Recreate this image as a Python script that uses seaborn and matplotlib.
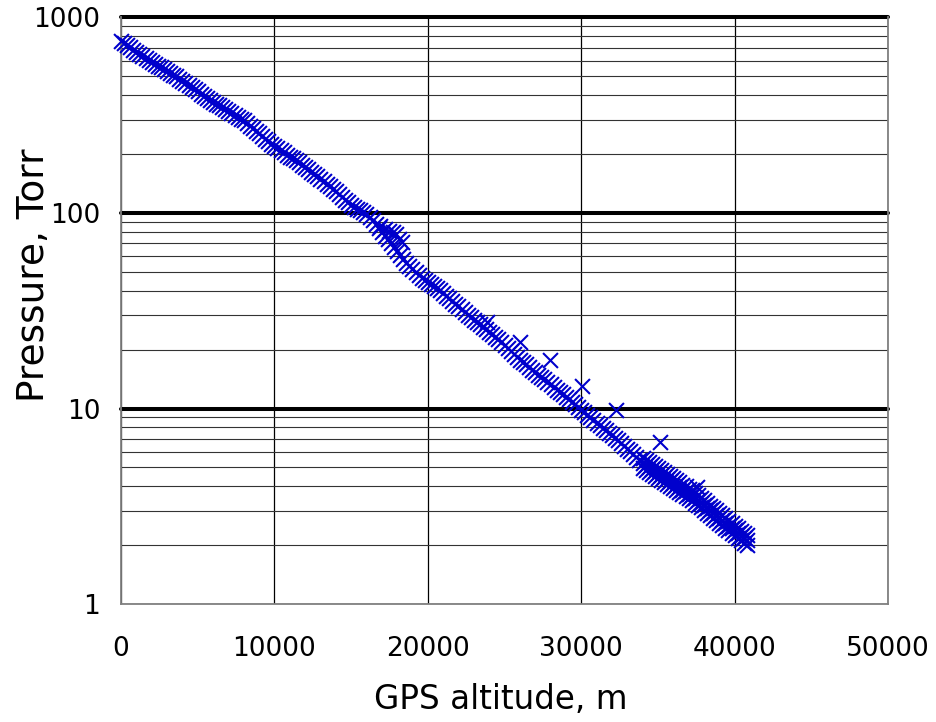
import numpy as np
import pandas as pd
import matplotlib
matplotlib.use('Agg')
import matplotlib.pyplot as plt
import matplotlib.ticker as ticker
import seaborn as sns

# ascent (altitude m, pressure Torr)
ascent_alt = [0, 200, 400, 600, 800, 1000, 1200, 1400, 1600, 1800,
              2000, 2200, 2400, 2600, 2800, 3000, 3200, 3400, 3600, 3800,
              4000, 4200, 4400, 4600, 4800, 5000, 5200, 5400, 5600, 5800,
              6000, 6200, 6400, 6600, 6800, 7000, 7200, 7400, 7600, 7800,
              8000, 8200, 8400, 8600, 8800, 9000, 9200, 9400, 9600, 9800,
              10000, 10200, 10400, 10600, 10800, 11000, 11200, 11400, 11600, 11800,
              12000, 12200, 12400, 12600, 12800, 13000, 13200, 13400, 13600, 13800,
              14000, 14200, 14400, 14600, 14800, 15000, 15200, 15400, 15600, 15800,
              16000, 16200, 16400, 16600, 16800, 17000, 17200, 17400, 17600, 17800,
              18000, 18200, 18400, 18600, 18800, 19000, 19200, 19400, 19600, 19800,
              20000, 20200, 20400, 20600, 20800, 21000, 21200, 21400, 21600, 21800,
              22000, 22200, 22400, 22600, 22800, 23000, 23200, 23400, 23600, 23800,
              24000, 24200, 24400, 24600, 24800, 25000, 25200, 25400, 25600, 25800,
              26000, 26200, 26400, 26600, 26800, 27000, 27200, 27400, 27600, 27800,
              28000, 28200, 28400, 28600, 28800, 29000, 29200, 29400, 29600, 29800,
              30000, 30200, 30400, 30600, 30800, 31000, 31200, 31400, 31600, 31800,
              32000, 32200, 32400, 32600, 32800, 33000, 33200, 33400, 33600, 33800]
ascent_p = [760, 740, 721, 703, 685, 667, 650, 634, 619, 606,
            593, 580, 568, 556, 544, 532, 521, 510, 499, 487,
            475, 463, 452, 441, 430, 419, 408, 398, 388, 379,
            371, 363, 355, 347, 340, 332, 325, 318, 311, 304,
            298, 289, 280, 272, 264, 256, 248, 240, 233, 226,
            219, 214, 209, 204, 199, 194, 190, 186, 182, 177,
            172, 167, 163, 158, 154, 150, 146, 141, 137, 133,
            129, 125, 121, 117, 114, 110, 107, 105, 103, 101,
            98.4, 95.3, 92.3, 88.1, 84.1, 80.3, 76.7, 73.3, 70.0, 66.8,
            63.8, 60.9, 58.2, 55.8, 53.6, 51.6, 49.8, 48.1, 46.6, 45.5,
            44.4, 43.3, 42.3, 41.3, 40.4, 39.1, 37.8, 36.6, 35.5, 34.4,
            33.3, 32.2, 31.2, 30.2, 29.3, 28.5, 27.7, 26.9, 26.1, 25.4,
            24.7, 24.0, 23.3, 22.6, 22.0, 21.2, 20.5, 19.8, 19.1, 18.4,
            17.7, 17.2, 16.8, 16.3, 15.8, 15.3, 14.9, 14.5, 14.1, 13.7,
            13.3, 12.9, 12.5, 12.1, 11.8, 11.5, 11.2, 10.8, 10.5, 10.2,
            9.86, 9.56, 9.27, 9.00, 8.73, 8.47, 8.22, 7.98, 7.74, 7.51,
            7.29, 7.08, 6.87, 6.65, 6.44, 6.23, 6.03, 5.84, 5.65, 5.46]

# small bunch sitting above the curve near 17-18 km
bump_alt = [16900, 17200, 17450, 17700, 17900, 18100, 18300]
bump_p = [86, 83, 81, 79.5, 78, 74, 71]

# dense part at the top of the flight: upper edge, middle and lower edge of the band
float_alt = [34000, 34200, 34400, 34600, 34800, 35000, 35200, 35400, 35600, 35800,
             36000, 36200, 36400, 36600, 36800, 37000, 37200, 37400, 37600, 37800,
             38000, 38200, 38400, 38600, 38800, 39000, 39200, 39400, 39600, 39800,
             40000, 40200, 40400, 40600, 40800]
float_p_hi = [5.59, 5.46, 5.32, 5.20, 5.08, 4.96, 4.83, 4.73, 4.61, 4.51,
              4.40, 4.29, 4.19, 4.08, 4.00, 3.89, 3.81, 3.70, 3.59, 3.50,
              3.39, 3.29, 3.19, 3.10, 3.01, 2.93, 2.84, 2.76, 2.67, 2.60,
              2.52, 2.45, 2.37, 2.31, 2.25]
float_p_mid = [5.27, 5.15, 5.02, 4.91, 4.79, 4.68, 4.56, 4.46, 4.35, 4.25,
               4.15, 4.05, 3.95, 3.85, 3.77, 3.67, 3.59, 3.49, 3.39, 3.30,
               3.20, 3.10, 3.01, 2.92, 2.84, 2.76, 2.68, 2.60, 2.52, 2.45,
               2.38, 2.31, 2.24, 2.18, 2.12]
float_p_lo = [4.98, 4.87, 4.74, 4.64, 4.53, 4.42, 4.31, 4.21, 4.11, 4.02,
              3.92, 3.83, 3.73, 3.64, 3.56, 3.47, 3.39, 3.30, 3.20, 3.12,
              3.02, 2.93, 2.84, 2.76, 2.68, 2.61, 2.53, 2.46, 2.38, 2.32,
              2.25, 2.18, 2.12, 2.06, 2.00]

# stray readings
odd_alt = [23840, 26010, 27970, 30030, 32270, 35140, 37530]
odd_p = [27.8, 22.0, 17.7, 13.0, 9.8, 6.76, 3.98]

df = pd.concat([
    pd.DataFrame({'alt': ascent_alt, 'p': ascent_p}),
    pd.DataFrame({'alt': bump_alt, 'p': bump_p}),
    pd.DataFrame({'alt': float_alt, 'p': float_p_hi}),
    pd.DataFrame({'alt': float_alt, 'p': float_p_mid}),
    pd.DataFrame({'alt': float_alt, 'p': float_p_lo}),
    pd.DataFrame({'alt': odd_alt, 'p': odd_p}),
], ignore_index=True)

sns.set_style('white')
plt.rcParams['font.family'] = ['DejaVu Sans']

fig = plt.figure(figsize=(9.36, 7.22), dpi=100)
ax = fig.add_axes([0.1293, 0.1634, 0.8194, 0.8124])

sns.scatterplot(data=df, x='alt', y='p', marker='x', s=115, color='#0000CC',
                linewidth=1.5, clip_on=False, zorder=4, legend=False, ax=ax)

ax.set_yscale('log')
ax.set_xlim(0, 50000)
ax.set_ylim(1, 1000)

ax.xaxis.set_major_locator(ticker.MultipleLocator(10000))
ax.xaxis.set_major_formatter(ticker.FuncFormatter(lambda v, _: f'{v:.0f}'))
ax.yaxis.set_major_locator(ticker.LogLocator(base=10))
ax.yaxis.set_minor_locator(ticker.LogLocator(base=10, subs=np.arange(2, 10)))
ax.yaxis.set_major_formatter(ticker.FuncFormatter(lambda v, _: f'{v:g}'))
ax.yaxis.set_minor_formatter(ticker.NullFormatter())

# grid: thin everywhere, thick decade lines
ax.set_axisbelow(True)
ax.yaxis.grid(True, which='major', color='#222222', lw=0.9)
ax.yaxis.grid(True, which='minor', color='#333333', lw=0.8)
ax.xaxis.grid(True, which='major', color='black', lw=0.9)
for lv in (10, 100, 1000):
    ax.axhline(lv, color='black', lw=2.9, clip_on=False, zorder=1.5)

for side in ('left', 'right', 'bottom'):
    ax.spines[side].set_color('#808080')
    ax.spines[side].set_linewidth(1.3)
ax.spines['top'].set_visible(False)

ax.tick_params(axis='both', which='major', direction='out', length=7, width=1,
               color='#808080', labelsize=19, labelcolor='black')
ax.tick_params(axis='x', which='major', pad=16)
ax.tick_params(axis='y', which='major', pad=8)
ax.tick_params(axis='y', which='minor', length=0)

ax.set_xlabel('GPS altitude, m', fontsize=23.5, color='black')
ax.set_ylabel('Pressure, Torr', fontsize=27, color='black')
ax.xaxis.set_label_coords(0.495, -0.135)
ax.yaxis.set_label_coords(-0.09, 0.56)

fig.savefig('out.png', dpi=100)
